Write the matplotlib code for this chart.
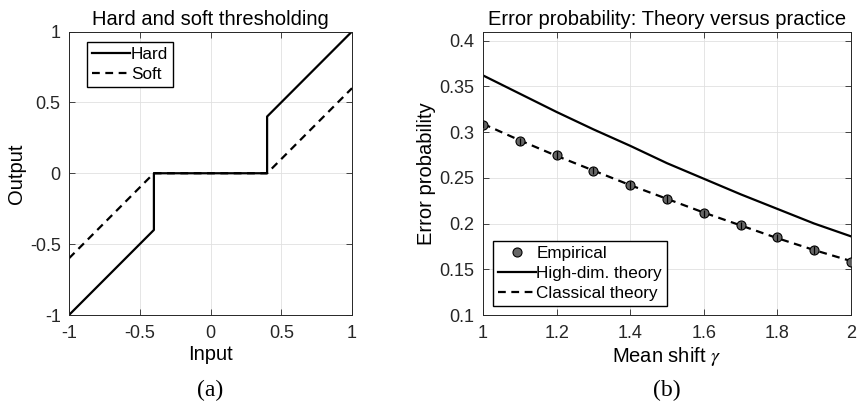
import matplotlib.pyplot as plt

plt.rcParams['font.family'] = ['Liberation Sans', 'DejaVu Sans']
plt.rcParams['mathtext.fontset'] = 'stix'

# panel (a): thresholding functions (threshold 0.4)
hard_x = [-1, -0.4, -0.4, 0.4, 0.4, 1]
hard_y = [-1, -0.4, 0, 0, 0.4, 1]
soft_x = [-1, -0.4, 0.4, 1]
soft_y = [-0.6, 0, 0, 0.6]

# panel (b): error probability vs mean shift
gamma = [1.0, 1.1, 1.2, 1.3, 1.4, 1.5, 1.6, 1.7, 1.8, 1.9, 2.0]
empirical = [0.308, 0.290, 0.275, 0.258, 0.242, 0.227, 0.211, 0.198, 0.185, 0.171, 0.158]
emp_err = [0.004, 0.004, 0.004, 0.004, 0.004, 0.004, 0.004, 0.004, 0.004, 0.004, 0.004]
high_dim = [0.362, 0.342, 0.322, 0.303, 0.285, 0.266, 0.249, 0.232, 0.216, 0.200, 0.186]
classical = [0.309, 0.291, 0.274, 0.258, 0.242, 0.227, 0.212, 0.198, 0.184, 0.171, 0.159]

fig = plt.figure(figsize=(8.57, 4.05), dpi=100)
ax1 = fig.add_axes([69 / 857, 90 / 405, 283 / 857, 283.5 / 405])
ax2 = fig.add_axes([483 / 857, 90 / 405, 368 / 857, 283.5 / 405])

grid_kw = dict(color='#e0e0e0', linewidth=0.6)
leg_kw = dict(fontsize=12.3, handlelength=2.2, handletextpad=0.05, borderpad=0.3,
              labelspacing=0.3, fancybox=False, edgecolor='k', framealpha=1,
              borderaxespad=0)

# ---- (a)
ax1.plot(hard_x, hard_y, 'k-', lw=1.6, label='Hard')
ax1.plot(soft_x, soft_y, 'k--', lw=1.6, label='Soft', dashes=(3.5, 2.5))
ax1.set_xlim(-1, 1)
ax1.set_ylim(-1, 1)
ax1.set_xticks([-1, -0.5, 0, 0.5, 1])
ax1.set_xticklabels(['-1', '-0.5', '0', '0.5', '1'])
ax1.set_yticks([-1, -0.5, 0, 0.5, 1])
ax1.set_yticklabels(['-1', '-0.5', '0', '0.5', '1'])
ax1.set_title('Hard and soft thresholding', fontsize=14.5, pad=5)
ax1.set_xlabel('Input', fontsize=14.5, labelpad=2)
ax1.set_ylabel('Output', fontsize=14.5, labelpad=3)
ax1.legend(loc='upper left', bbox_to_anchor=(0.064, 0.964), **leg_kw)

# ---- (b)
ax2.plot(gamma, high_dim, 'k-', lw=1.6, label='High-dim. theory', zorder=2)
ax2.plot(gamma, classical, 'k--', lw=1.6, label='Classical theory', dashes=(3.5, 2.5), zorder=2)
ax2.errorbar(gamma, empirical, yerr=emp_err, fmt='none', ecolor='k', elinewidth=0.9,
             capsize=0, zorder=4)
ax2.plot(gamma, empirical, 'o', mfc='#666666', mec='k', ms=6.5, mew=0.8,
         label='Empirical', zorder=3)
ax2.set_xlim(1, 2)
ax2.set_ylim(0.1, 0.41)
ax2.set_xticks([1, 1.2, 1.4, 1.6, 1.8, 2])
ax2.set_xticklabels(['1', '1.2', '1.4', '1.6', '1.8', '2'])
ax2.set_yticks([0.1, 0.15, 0.2, 0.25, 0.3, 0.35, 0.4])
ax2.set_yticklabels(['0.1', '0.15', '0.2', '0.25', '0.3', '0.35', '0.4'])
ax2.set_title('Error probability: Theory versus practice', fontsize=14.5, pad=5)
ax2.set_xlabel(r'Mean shift $\gamma$', fontsize=14.5, labelpad=2)
ax2.set_ylabel('Error probability', fontsize=14.5, labelpad=3)
h, l = ax2.get_legend_handles_labels()
order = [2, 0, 1]
ax2.legend([h[i] for i in order], [l[i] for i in order], loc='lower left',
           bbox_to_anchor=(0.027, 0.03), **leg_kw)

for ax in (ax1, ax2):
    ax.grid(True, **grid_kw)
    ax.set_axisbelow(True)
    ax.tick_params(direction='in', top=True, right=True, labelsize=13, length=4, width=0.6,
                   colors='#262626', labelcolor='#262626')
    ax.tick_params(axis='x', pad=7)
    ax.tick_params(axis='y', pad=6)
    for s in ax.spines.values():
        s.set_linewidth(0.7)
        s.set_color('#262626')

fig.text(210 / 857, 15 / 405, '(a)', fontsize=17, family='Liberation Serif', ha='center', va='center')
fig.text(667 / 857, 15 / 405, '(b)', fontsize=17, family='Liberation Serif', ha='center', va='center')

fig.savefig('out.png', dpi=100)
